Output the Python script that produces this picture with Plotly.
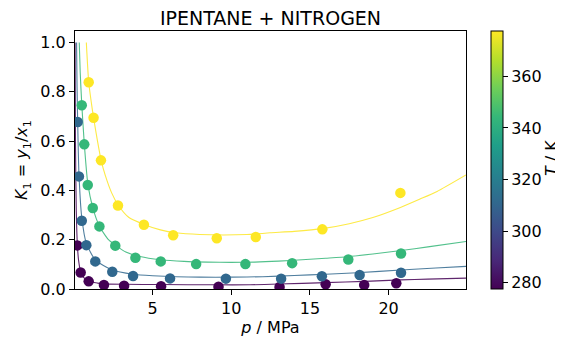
import plotly.graph_objects as go
from plotly.colors import sample_colorscale

# ---------------- data ----------------
temperatures = [277.59, 310.93, 344.26, 377.59]  # K

# experimental points: pressure (MPa) and K1
p_exp_277 = [0.22, 0.43, 0.94, 1.91, 3.19, 5.54, 9.19, 13.07, 16.0, 18.45, 20.49]
k_exp_277 = [0.177, 0.067, 0.031, 0.016, 0.013, 0.011, 0.009, 0.008, 0.019, 0.016, 0.023]

p_exp_311 = [0.24, 0.32, 0.50, 0.79, 1.36, 2.44, 3.76, 6.11, 9.66, 13.17, 15.76, 18.16, 20.79]
k_exp_311 = [0.678, 0.457, 0.277, 0.178, 0.112, 0.070, 0.053, 0.043, 0.042, 0.042, 0.052, 0.057, 0.066]

p_exp_344 = [0.50, 0.66, 0.88, 1.20, 1.62, 2.63, 3.91, 5.52, 7.77, 10.90, 13.87, 17.44, 20.79]
k_exp_344 = [0.746, 0.587, 0.422, 0.329, 0.254, 0.176, 0.127, 0.112, 0.101, 0.101, 0.105, 0.120, 0.144]

p_exp_378 = [0.94, 1.25, 1.72, 2.80, 4.45, 6.31, 9.08, 11.56, 15.79, 20.75]
k_exp_378 = [0.839, 0.695, 0.522, 0.339, 0.261, 0.218, 0.206, 0.211, 0.242, 0.390]

# model curves
p_mod_277 = [0.075, 0.1, 0.15, 0.22, 0.3, 0.43, 0.6, 0.94, 1.5, 2.0, 3.2, 5.5, 9.0, 11.2, 13.0, 16.0, 18.5, 20.8, 22.5, 24.92]
k_mod_277 = [1.0, 0.6, 0.32, 0.18, 0.115, 0.07, 0.048, 0.031, 0.024, 0.021, 0.019, 0.018, 0.017, 0.017, 0.02, 0.026, 0.031, 0.037, 0.040, 0.044]

p_mod_311 = [0.17, 0.2, 0.24, 0.32, 0.5, 0.79, 1.36, 2.44, 3.76, 5.0, 6.5, 8.0, 10.0, 12.0, 14.0, 16.0, 18.0, 20.8, 23.0, 24.92]
k_mod_311 = [1.0, 0.82, 0.68, 0.47, 0.29, 0.185, 0.118, 0.077, 0.060, 0.054, 0.050, 0.048, 0.048, 0.050, 0.055, 0.060, 0.066, 0.077, 0.085, 0.092]

p_mod_344 = [0.34, 0.4, 0.5, 0.66, 0.88, 1.2, 1.62, 2.2, 2.63, 3.3, 4.2, 5.5, 7.0, 8.5, 10.0, 11.5, 13.0, 14.5, 16.0, 17.4, 19.0, 20.8, 22.5, 24.92]
k_mod_344 = [1.0, 0.88, 0.75, 0.59, 0.43, 0.33, 0.255, 0.2, 0.178, 0.15, 0.132, 0.119, 0.112, 0.109, 0.108, 0.109, 0.113, 0.119, 0.125, 0.131, 0.142, 0.156, 0.171, 0.193]

p_mod_378 = [0.79, 0.94, 1.1, 1.25, 1.5, 1.72, 2.0, 2.4, 2.8, 3.5, 4.45, 5.5, 6.5, 8.0, 9.5, 11.0, 12.47, 14.0, 15.79, 17.5, 19.0, 20.75, 22.0, 23.08, 24.92]
k_mod_378 = [1.0, 0.84, 0.76, 0.695, 0.60, 0.525, 0.46, 0.39, 0.342, 0.29, 0.262, 0.24, 0.228, 0.221, 0.219, 0.221, 0.228, 0.234, 0.245, 0.265, 0.29, 0.331, 0.365, 0.396, 0.463]

x_ticks = [5, 10, 15, 20]
y_ticks = [0.0, 0.2, 0.4, 0.6, 0.8, 1.0]
cbar_ticks = [280, 300, 320, 340, 360]

t_min, t_max = 277.59, 377.59

exp_sets = [(p_exp_277, k_exp_277), (p_exp_311, k_exp_311), (p_exp_344, k_exp_344), (p_exp_378, k_exp_378)]
mod_sets = [(p_mod_277, k_mod_277), (p_mod_311, k_mod_311), (p_mod_344, k_mod_344), (p_mod_378, k_mod_378)]

FONT = "DejaVu Sans"
FS = 16
W, H = 555, 329   # page body has an 8px default margin
ML, MR, MT, MB = 67, 97, 23, 48
fig = go.Figure()

for T, (pm, km) in zip(temperatures, mod_sets):
    col = sample_colorscale("Viridis", [(T - t_min) / (t_max - t_min)])[0]
    fig.add_trace(go.Scatter(x=pm, y=km, mode="lines", line=dict(color=col, width=1.1, shape="spline", smoothing=0.6),
                             opacity=0.85, showlegend=False, hoverinfo="skip"))

all_p, all_k, all_T = [], [], []
for T, (pe, ke) in zip(temperatures, exp_sets):
    all_p += pe
    all_k += ke
    all_T += [T] * len(pe)

fig.add_trace(go.Scatter(
    x=all_p, y=all_k, mode="markers", showlegend=False,
    marker=dict(size=10.5, color=all_T, colorscale="Viridis", cmin=t_min, cmax=t_max,
                line=dict(width=0),
                colorbar=dict(
                    x=1.064, xanchor="left", xref="paper", y=0.5, yanchor="middle",
                    len=1.0, lenmode="fraction", thickness=12, xpad=0, ypad=0,
                    outlinewidth=1, outlinecolor="black",
                    tickmode="array", tickvals=cbar_ticks, ticks="outside", ticklen=5,
                    tickcolor="black", tickfont=dict(family=FONT, size=FS, color="black"),
                ))))

pw = W - ML - MR
ph = H - MT - MB
fig.add_annotation(text="<i>T</i> / K", xref="paper", yref="paper",
                   x=(543 - ML) / pw, y=(H - MB - 150) / ph, xanchor="center", yanchor="middle",
                   textangle=-90, showarrow=False, borderpad=0,
                   font=dict(family=FONT, size=FS, color="black"))

axis_common = dict(showline=True, linecolor="black", linewidth=1, mirror=True, showgrid=False,
                   zeroline=False, ticks="outside", ticklen=5, tickcolor="black", automargin=False,
                   tickfont=dict(family=FONT, size=FS, color="black"))

fig.update_layout(
    width=W, height=H,
    margin=dict(l=ML, r=MR, t=MT, b=MB, autoexpand=False),
    paper_bgcolor="white", plot_bgcolor="white",
    font=dict(family=FONT, color="black"),
    title=dict(text="IPENTANE + NITROGEN", x=(ML + W - MR) / 2 / W, xanchor="center", y=1 - 10 / H, yanchor="middle",
               font=dict(family=FONT, size=19, color="black")),
    xaxis=dict(range=[0.07, 24.92], tickvals=x_ticks, ticktext=[str(v) for v in x_ticks],
               title=dict(text="<i>p</i> / MPa", standoff=5, font=dict(family=FONT, size=FS, color="black")),
               **axis_common),
    yaxis=dict(range=[0, 1.047], tickvals=y_ticks, ticktext=[f"{v:.1f}" for v in y_ticks],
               title=dict(text="<i>K</i><sub>1</sub> = <i>y</i><sub>1</sub>/<i>x</i><sub>1</sub>", standoff=8,
                          font=dict(family=FONT, size=FS, color="black")),
               **axis_common),
)

fig.write_html("out.html")
